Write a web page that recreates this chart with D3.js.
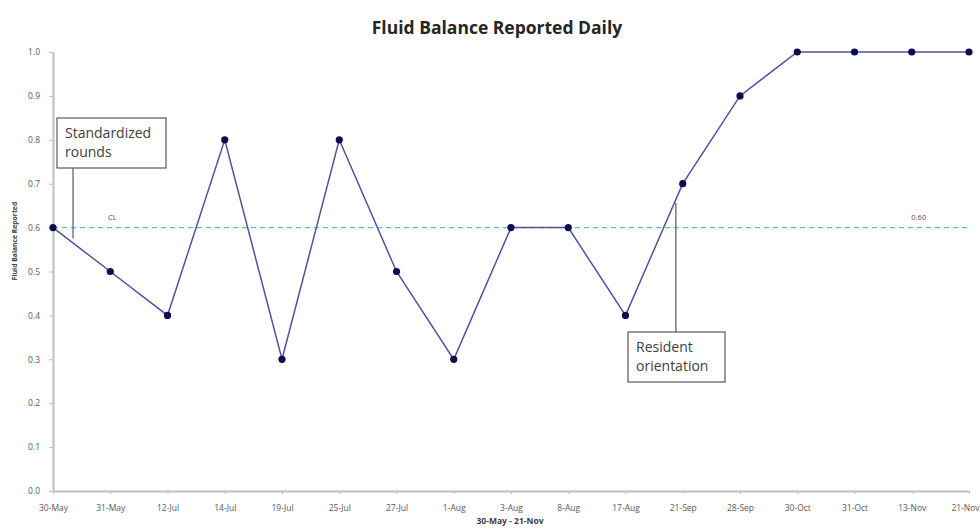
<!DOCTYPE html>
<html><head><meta charset="utf-8">
<script src="https://cdn.jsdelivr.net/npm/d3@7"></script>
<style>body{margin:0;background:#fff}svg{display:block}</style>
</head><body>
<svg id="c" width="980" height="531"></svg>
<script>
const categories = ["30-May","31-May","12-Jul","14-Jul","19-Jul","25-Jul","27-Jul","1-Aug","3-Aug","8-Aug","17-Aug","21-Sep","28-Sep","30-Oct","31-Oct","13-Nov","21-Nov"];
const values = [0.6,0.5,0.4,0.8,0.3,0.8,0.5,0.3,0.6,0.6,0.4,0.7,0.9,1.0,1.0,1.0,1.0];
const clValue = 0.6;
const yTicks = [0,0.1,0.2,0.3,0.4,0.5,0.6,0.7,0.8,0.9,1.0];
const titleText = "Fluid Balance Reported Daily";
const xTitle = "30-May - 21-Nov";
const yTitle = "Fluid Balance Reported";
const annotations = [
  {lines:["Standardized","rounds"], idx:0.35, box:[57,118,109,50], lineTo:0.575, from:"bottom"},
  {lines:["Resident","orientation"], idx:10.88, box:[628,332,97,50], lineTo:0.656, from:"top"}
];

const svg = d3.select("#c");
const font = "'Open Sans', 'Noto Sans', sans-serif";
const m = {l:53, r:11};
const W = 980;
const x = d3.scalePoint().domain(categories).range([m.l, W - m.r]);
const y = d3.scaleLinear().domain([0,1]).range([491, 52]);

// title
svg.append("text").attr("x",497).attr("y",34).attr("text-anchor","middle")
  .attr("font-family",font).attr("font-weight","bold").attr("font-size",17.5).attr("fill","#262626").text(titleText);

// y axis
const ya = svg.append("g").attr("transform",`translate(${m.l},0)`)
  .call(d3.axisLeft(y).tickValues(yTicks).tickFormat(d3.format(".1f")).tickSize(4).tickSizeOuter(0));
ya.select(".domain").attr("stroke","#bfbfbf").attr("stroke-width",2);
ya.selectAll(".tick line").attr("stroke","#bfbfbf");
ya.selectAll(".tick text").attr("font-family",font).attr("font-size",8.5).attr("fill","#595959").attr("dx","-6");

// x axis
const xa = svg.append("g").attr("transform",`translate(0,${y(0)})`)
  .call(d3.axisBottom(x).tickSize(3).tickSizeOuter(0));
xa.select(".domain").attr("stroke","#bfbfbf").attr("stroke-width",2);
xa.selectAll(".tick line").attr("stroke","#bfbfbf");
xa.selectAll(".tick text").attr("font-family",font).attr("font-size",8.5).attr("fill","#595959").attr("dy","1.6em")
  .attr("dx",(d,i)=> i===categories.length-1 ? -4 : 0);

// axis titles
svg.append("text").attr("x",510).attr("y",524).attr("text-anchor","middle")
  .attr("font-family",font).attr("font-weight","bold").attr("font-size",8.5).attr("fill","#404040").text(xTitle);
svg.append("text").attr("transform",`translate(17,241) rotate(-90)`).attr("text-anchor","middle")
  .attr("font-family",font).attr("font-weight","bold").attr("font-size",6.8).attr("fill","#404040").text(yTitle);

// CL
svg.append("line").attr("x1",m.l).attr("x2",W-m.r).attr("y1",y(clValue)).attr("y2",y(clValue))
  .attr("stroke","#5cbcc8").attr("stroke-width",1.2).attr("stroke-dasharray","5,4");
svg.append("text").attr("x",x(categories[1])+2).attr("y",y(clValue)-8).attr("text-anchor","middle")
  .attr("font-family",font).attr("font-size",7.5).attr("fill","#505050").text("CL");
svg.append("text").attr("x",x(categories[15])+7).attr("y",y(clValue)-8).attr("text-anchor","middle")
  .attr("font-family",font).attr("font-size",7.5).attr("fill","#505050").text(clValue.toFixed(2));

// series
const line = d3.line().x((d,i)=>x(categories[i])).y(d=>y(d));
svg.append("path").datum(values).attr("d",line).attr("fill","none").attr("stroke","#52529e").attr("stroke-width",1.5);
svg.selectAll("circle.pt").data(values).join("circle").attr("class","pt")
  .attr("cx",(d,i)=>x(categories[i])).attr("cy",d=>y(d)).attr("r",3.6).attr("fill","#0d0d4d");

// annotations
const step = x.step();
annotations.forEach(a=>{
  const [bx,by,bw,bh] = a.box;
  const lx = x(categories[0]) + a.idx*step;
  const y1 = a.from==="bottom" ? by+bh : by;
  svg.append("line").attr("x1",lx).attr("x2",lx).attr("y1",y1).attr("y2",y(a.lineTo))
    .attr("stroke","#595959").attr("stroke-width",1.2);
  svg.append("rect").attr("x",bx).attr("y",by).attr("width",bw).attr("height",bh)
    .attr("fill","#fff").attr("stroke","#595959").attr("stroke-width",1.2);
  a.lines.forEach((t,i)=>{
    svg.append("text").attr("x",bx+8).attr("y",by+20+i*19).attr("font-family",font)
      .attr("font-size",14).attr("fill","#404040").text(t);
  });
});
</script>
</body></html>
